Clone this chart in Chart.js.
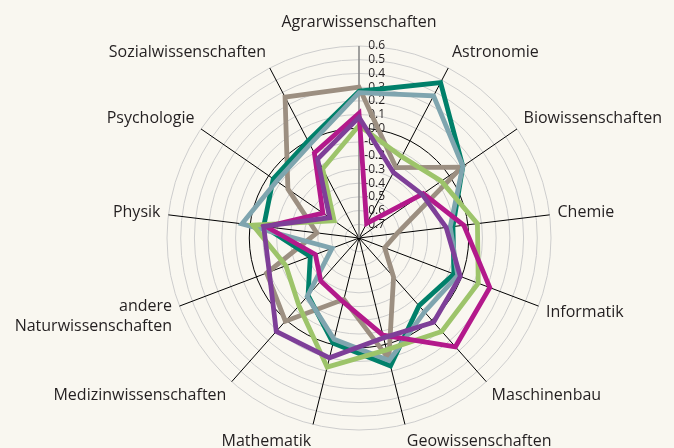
<!DOCTYPE html>
<html>
<head>
<meta charset="utf-8">
<script src="https://cdn.jsdelivr.net/npm/chart.js@4.4.0/dist/chart.umd.min.js"></script>
<style>
    html, body { margin: 0; padding: 0; background: #f9f7f0; }
    #wrap { width: 674px; height: 448px; }
</style>
</head>
<body>
<div id="wrap"><canvas id="radarChart"></canvas></div>
<script>
const categories = [
    "Agrarwissenschaften", "Astronomie", "Biowissenschaften", "Chemie", "Informatik",
    "Maschinenbau", "Geowissenschaften", "Mathematik", "Medizinwissenschaften",
    ["andere", "Naturwissenschaften"], "Physik", "Psychologie", "Sozialwissenschaften"
];

// === Werte je Linie ===
const tealValues     = [0.27, 0.48, 0.12, -0.11, -0.06, -0.14, 0.16, -0.01, -0.24, -0.42, -0.10, -0.04, 0.00];
const greyBlueValues = [0.26, 0.37, 0.12, -0.13, -0.03, -0.08, 0.12, -0.04, -0.23, -0.59, 0.06, -0.07, -0.03];
const taupeValues    = [0.30, -0.22, 0.11, -0.52, -0.60, -0.42, 0.11, -0.34, 0.01, -0.08, -0.49, -0.17, 0.36];
const greenValues    = [0.02, -0.13, -0.07, 0.07, 0.13, 0.11, 0.04, 0.17, -0.14, -0.23, -0.02, -0.58, -0.23];
const purpleValues   = [0.08, -0.26, -0.24, -0.16, -0.01, 0.02, -0.05, 0.10, 0.11, -0.10, -0.10, -0.54, -0.15];
const magentaValues  = [0.11, -0.68, -0.23, -0.03, 0.22, 0.26, -0.07, -0.32, -0.38, -0.46, -0.12, -0.48, -0.10];

const tickValues = [0.6, 0.5, 0.4, 0.3, 0.2, 0.1, 0.0, -0.1, -0.2, -0.3, -0.4, -0.5, -0.6, -0.7];

const textColor = "#231f20";

// === Beschriftungen selbst zeichnen ===
const labelPlugin = {
    id: "radarLabels",
    beforeDatasetsDraw(chart) {
        const scale = chart.scales.r;
        const ctx = chart.ctx;
        ctx.save();
        ctx.font = "12px 'Open Sans'";
        ctx.fillStyle = textColor;
        ctx.textAlign = "right";
        ctx.textBaseline = "middle";
        tickValues.forEach((v) => {
            const y = scale.yCenter - scale.getDistanceFromCenterForValue(v);
            ctx.fillText(v.toFixed(1), scale.xCenter + 26, y);
        });
        ctx.restore();
    },
    afterDraw(chart) {
        const scale = chart.scales.r;
        const ctx = chart.ctx;
        const lineH = 20;
        ctx.save();
        ctx.font = "16px 'Open Sans'";
        ctx.fillStyle = textColor;
        ctx.textBaseline = "middle";
        categories.forEach((label, i) => {
            const a = scale.getIndexAngle(i);
            const s = Math.sin(a), c = Math.cos(a);
            // oberste Beschriftung etwas weiter weg
            const gap = c > 0.99 ? 14 : 8;
            const pos = scale.getPointPosition(i, scale.drawingArea + gap);
            ctx.textAlign = s > 0.05 ? "left" : s < -0.05 ? "right" : "center";
            const lines = Array.isArray(label) ? label : [label];
            const h = lines.length * lineH;
            const yc = pos.y - c * h / 2;
            lines.forEach((t, k) => {
                ctx.fillText(t, pos.x, yc - h / 2 + lineH * (k + 0.5));
            });
        });
        ctx.restore();
    },
};

const ctx = document.getElementById("radarChart").getContext("2d");

function series(values, color) {
    return {
        data: values,
        borderColor: color,
        backgroundColor: color,
        fill: false,
        borderWidth: 4.8,
        pointRadius: 0,
        tension: 0,
        borderJoinStyle: "miter",
    };
}

new Chart(ctx, {
    type: "radar",
    data: {
        labels: categories,
        datasets: [
            series(purpleValues, "#7e3f98"),
            series(magentaValues, "#b3198b"),
            series(greenValues, "#9dc46a"),
            series(greyBlueValues, "#7fa5af"),
            series(tealValues, "#00806a"),
            series(taupeValues, "#9c8f81"),
        ],
    },
    options: {
        responsive: true,
        maintainAspectRatio: false,
        animation: false,
        layout: { padding: { left: 167, right: 123, top: 46, bottom: 18 } },
        plugins: {
            legend: { display: false },
            tooltip: { enabled: false },
        },
        scales: {
            r: {
                min: -0.8,
                max: 0.6,
                ticks: { display: false, stepSize: 0.1 },
                pointLabels: { display: false },
                grid: {
                    circular: true,
                    color: (c) => (Math.abs(c.tick.value) < 1e-6 ? "#000000" : "#cdcdcd"),
                    lineWidth: 1,
                },
                angleLines: {
                    color: (c) => (c.index === 0 ? "#8a8a8a" : "#000000"),
                    lineWidth: (c) => (c.index === 0 ? 1.6 : 1),
                },
            },
        },
    },
    plugins: [labelPlugin],
});
</script>
</body>
</html>
